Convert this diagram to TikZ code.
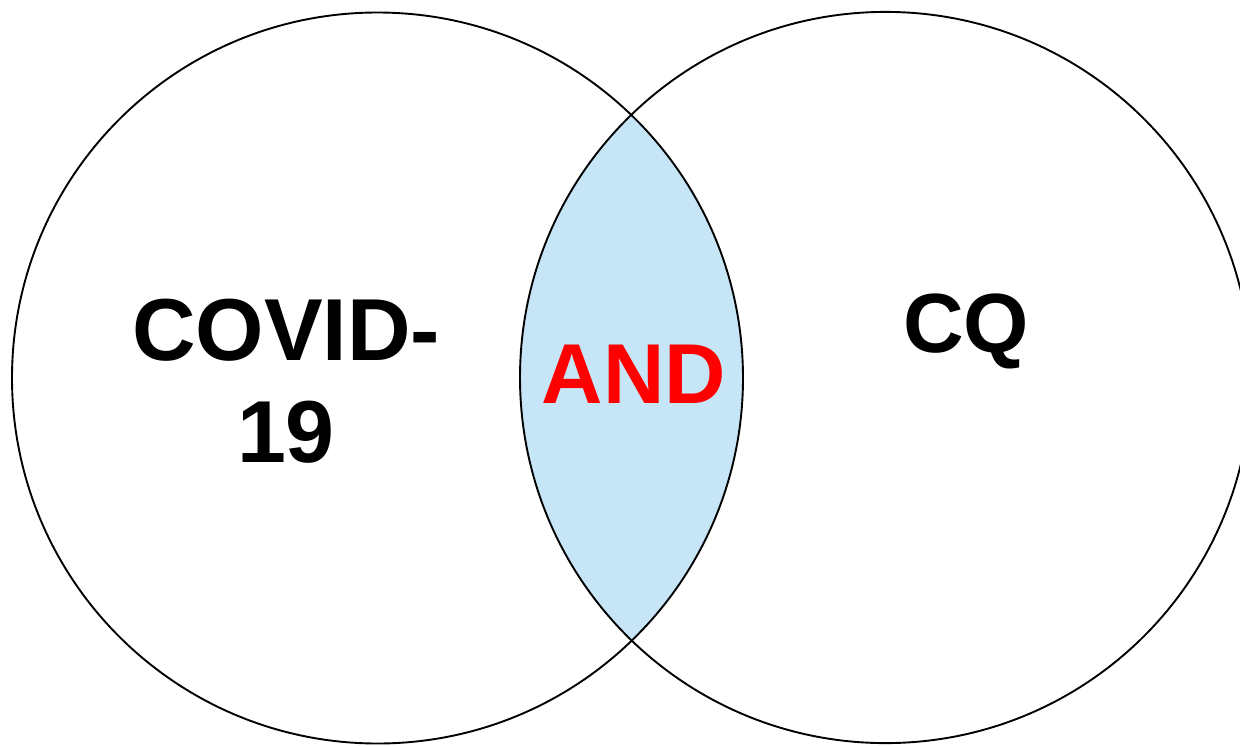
\documentclass[tikz,border=0pt]{standalone}
\usepackage{fontspec}
\setmainfont{Liberation Sans}
\definecolor{lensblue}{RGB}{198,229,246}
\definecolor{andred}{RGB}{255,0,0}
\tikzset{
  setcircle/.style={draw=black, line width=1.9pt},
  biglabel/.style={inner sep=0pt, font=\bfseries\fontsize{88}{102}\selectfont, align=center},
}
\begin{document}
\begin{tikzpicture}[x=1pt,y=-1pt]
  \useasboundingbox (0,0) rectangle (1240,745);
  \coordinate (cl) at (377.5,378);
  \coordinate (cr) at (885.6,377.5);
  % lens
  \begin{scope}
    \clip (cl) circle[radius=365.5];
    \fill[lensblue] (cr) circle[radius=365.6];
  \end{scope}
  \draw[setcircle] (cl) circle[radius=365.5];
  \draw[setcircle] (cr) circle[radius=365.6];
  \node[biglabel, anchor=north] (covid) at (286,299) {COVID-\\19};
  \node[inner sep=0pt, anchor=base, text=andred, font=\bfseries\fontsize{85}{90}\selectfont] (and) at (634,403) {AND};
  \node[inner sep=0pt, anchor=base, font=\bfseries\fontsize{84}{90}\selectfont] (cq) at (966,352) {CQ};
\end{tikzpicture}
\end{document}
